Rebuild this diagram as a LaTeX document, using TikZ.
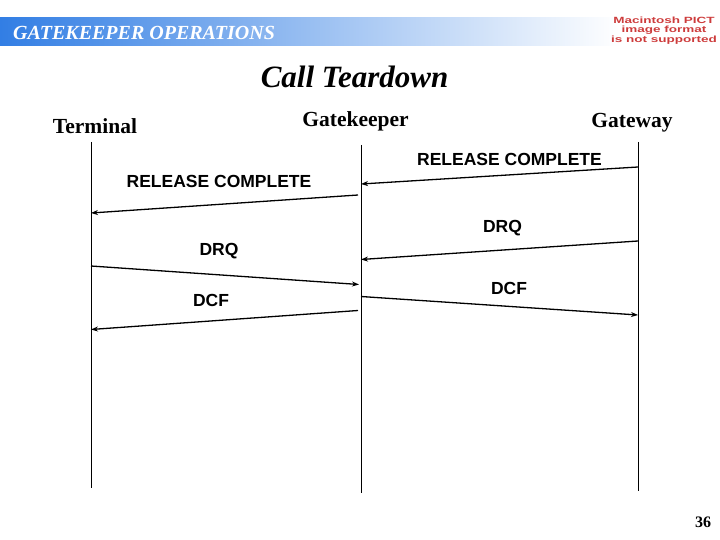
\documentclass[tikz,border=0pt]{standalone}
\usepackage{fontspec}
\setmainfont{Liberation Serif}
\newfontfamily\arialf{Liberation Sans}
\usetikzlibrary{arrows.meta}
\definecolor{hdrblue}{RGB}{50,126,228}
\definecolor{pictred}{RGB}{205,60,60}
\begin{document}
\begin{tikzpicture}[x=1pt,y=-1pt,
  msg/.style={line width=1.3pt,-{Stealth[length=7pt,width=5pt]}},
  lbl/.style={font=\arialf\bfseries\fontsize{17.5}{20}\selectfont, inner sep=0},
  life/.style={line width=1pt},
  actor/.style={font=\bfseries\fontsize{21.5}{24}\selectfont, inner sep=0}]
\useasboundingbox (0,0) rectangle (720,540);
% header band
\shade[left color=hdrblue, right color=white] (0,18) rectangle (620,46);
\node[font=\bfseries\itshape\fontsize{20}{22}\selectfont, text=white, anchor=west, inner sep=0] (hdr) at (13,33) {GATEKEEPER OPERATIONS};
\node[text=pictred, inner sep=0] (pict) at (664,31)
  {\arialf\bfseries\fontsize{9}{8.6}\selectfont\scalebox{1.5}[1]{\begin{tabular}{@{}c@{}}Macintosh PICT\\image format\\is not supported\end{tabular}}};
% title
\node[font=\bfseries\itshape\fontsize{31}{34}\selectfont, inner sep=0] (title) at (354.5,77) {Call Teardown};
% actors
\node[actor] (term) at (95,126) {Terminal};
\node[actor] (gk) at (355.5,121) {Gatekeeper};
\node[actor] (gw) at (632,123) {Gateway};
% lifelines
\coordinate (tTop) at (91,142); \coordinate (tBot) at (91,488);
\coordinate (gkTop) at (361,145); \coordinate (gkBot) at (361,493);
\coordinate (gwTop) at (638,142); \coordinate (gwBot) at (638,491);
\draw[life] (tTop) -- (tBot);
\draw[life] (gkTop) -- (gkBot);
\draw[life] (gwTop) -- (gwBot);
% message endpoints
\coordinate (m1s) at (638,167); \coordinate (m1e) at (361,184);
\coordinate (m2s) at (358,195); \coordinate (m2e) at (91,213);
\coordinate (m3s) at (638,241); \coordinate (m3e) at (361,259.5);
\coordinate (m4s) at (91,266); \coordinate (m4e) at (359,284.5);
\coordinate (m5s) at (361,296.5); \coordinate (m5e) at (638,315);
\coordinate (m6s) at (358,310.5); \coordinate (m6e) at (91,329.5);
\draw[msg] (m1s) -- (m1e);
\draw[msg] (m2s) -- (m2e);
\draw[msg] (m3s) -- (m3e);
\draw[msg] (m4s) -- (m4e);
\draw[msg] (m5s) -- (m5e);
\draw[msg] (m6s) -- (m6e);
% labels
\node[lbl] (l1) at (509.5,159) {RELEASE COMPLETE};
\node[lbl] (l2) at (219,181) {RELEASE COMPLETE};
\node[lbl] (l3) at (502.5,228) {DRQ};
\node[lbl] (l4) at (219,251) {DRQ};
\node[lbl] (l5) at (509,288) {DCF};
\node[lbl] (l6) at (211,300) {DCF};
% page number
\node[font=\bfseries\fontsize{16}{18}\selectfont, inner sep=0] (pg) at (703,522) {36};
\end{tikzpicture}
\end{document}
